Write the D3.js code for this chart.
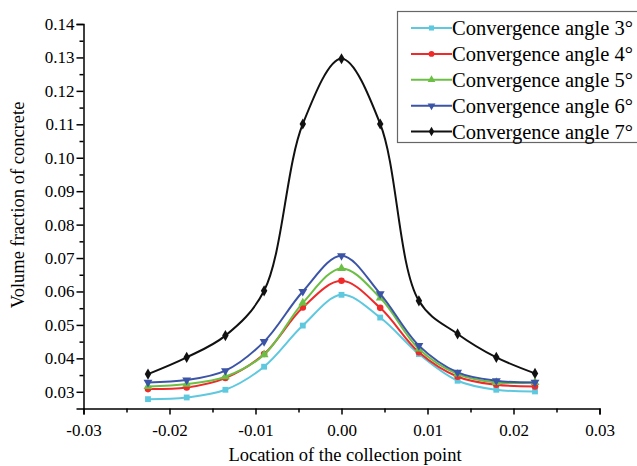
<!DOCTYPE html>
<html><head><meta charset="utf-8">
<script src="https://cdn.jsdelivr.net/npm/d3@7"></script>
<style>body{margin:0;background:#fff}svg{display:block}text{font-family:"Liberation Serif","Times New Roman",serif;fill:#000}</style>
</head><body><svg id="c" width="637" height="466"></svg>
<script>
const positions = [-0.0225,-0.018,-0.0135,-0.009,-0.0045,0,0.0045,0.009,0.0135,0.018,0.0225];
const seriesNames = ["Convergence angle 3°","Convergence angle 4°","Convergence angle 5°","Convergence angle 6°","Convergence angle 7°"];
const angle3 = [0.0278,0.0283,0.0306,0.0375,0.0498,0.0590,0.0522,0.0413,0.0333,0.0306,0.0301];
const angle4 = [0.0308,0.0313,0.0341,0.0413,0.0552,0.0632,0.0551,0.0418,0.0345,0.0321,0.0316];
const angle5 = [0.0316,0.0323,0.0345,0.0411,0.0566,0.0669,0.0581,0.0428,0.0353,0.0328,0.0328];
const angle6 = [0.0328,0.0335,0.0363,0.0450,0.0600,0.0707,0.0593,0.0438,0.0358,0.0333,0.0328];
const angle7 = [0.0353,0.0403,0.0468,0.0602,0.1101,0.1296,0.1101,0.0572,0.0473,0.0403,0.0355];
const xTicks = [-0.03,-0.02,-0.01,0.00,0.01,0.02,0.03];
const yTicks = [0.03,0.04,0.05,0.06,0.07,0.08,0.09,0.10,0.11,0.12,0.13,0.14];

const colors = ["#5ec8df","#ee2a2a","#6cbf45","#3b54a6","#111111"];
const symbols = [d3.symbolSquare, d3.symbolCircle, d3.symbolTriangle, "down", d3.symbolDiamond];
const allSeries = [angle3,angle4,angle5,angle6,angle7];

const svg = d3.select("#c");
const x = d3.scaleLinear().domain([-0.03,0.03]).range([83.5,599.5]);
const y = d3.scaleLinear().domain([0.025,0.14]).range([408.5,24]);
const fmt = v => d3.format(".2f")(v).replace("\u2212","-");

// axes
const xAxis = d3.axisBottom(x).tickValues(xTicks).tickSize(6).tickFormat(fmt);
const yAxis = d3.axisLeft(y).tickValues(yTicks).tickSize(7).tickFormat(fmt);
const xMinor = d3.range(-0.025,0.03,0.01).map(v=>+v.toFixed(4));
const yMinor = d3.range(0.035,0.14,0.01).map(v=>+v.toFixed(4));

const gx = svg.append("g").attr("transform","translate(0,408.5)").call(xAxis);
gx.select(".domain").attr("stroke","#000").attr("stroke-width",1.5);
gx.selectAll(".tick line").attr("stroke-width",1.5);
gx.selectAll("text").attr("font-size",17).attr("dy","1.1em");
svg.append("g").attr("transform","translate(0,408.5)").call(d3.axisBottom(x).tickValues(xMinor).tickSize(4).tickFormat(""))
  .call(g=>{g.select(".domain").remove();g.selectAll("line").attr("stroke-width",1.5);});

const gy = svg.append("g").attr("transform","translate(83.5,0)").call(yAxis);
gy.select(".domain").attr("stroke","#000").attr("stroke-width",1.5);
gy.selectAll(".tick line").attr("stroke-width",1.5);
gy.selectAll("text").attr("font-size",17).attr("x",-9);
svg.append("g").attr("transform","translate(83.5,0)").call(d3.axisLeft(y).tickValues(yMinor).tickSize(4).tickFormat(""))
  .call(g=>{g.select(".domain").remove();g.selectAll("line").attr("stroke-width",1.5);});

svg.append("text").attr("x",345).attr("y",461).attr("text-anchor","middle").attr("font-size",18.5).text("Location of the collection point");
svg.append("text").attr("transform","translate(24,205) rotate(-90)").attr("text-anchor","middle").attr("font-size",18.5).text("Volume fraction of concrete");

function marker(sel, i, size){
  if (symbols[i]==="down"){
    sel.attr("d", d3.symbol(d3.symbolTriangle, size)()).attr("transform", function(){ return d3.select(this).attr("transform") + " rotate(180)"; });
  } else {
    sel.attr("d", d3.symbol(symbols[i], size)());
  }
}

const line = d3.line().x((d,i)=>x(positions[i])).y(d=>y(d)).curve(d3.curveCatmullRom.alpha(0.5));
allSeries.forEach((vals,i)=>{
  svg.append("path").attr("d", line(vals)).attr("fill","none").attr("stroke",colors[i]).attr("stroke-width",2);
  svg.selectAll(null).data(vals).enter().append("path")
    .attr("transform",(d,j)=>`translate(${x(positions[j])},${y(d)})`)
    .each(function(){ marker(d3.select(this), i, i===4?36:34); })
    .attr("fill",colors[i]);
});

// legend
const lg = svg.append("g");
lg.append("rect").attr("x",397.5).attr("y",11.5).attr("width",260).attr("height",131).attr("fill","#fff").attr("stroke","#666").attr("stroke-width",1.2);
seriesNames.forEach((n,i)=>{
  const yy = 28 + i*25.9;
  lg.append("line").attr("x1",411).attr("x2",452).attr("y1",yy).attr("y2",yy).attr("stroke",colors[i]).attr("stroke-width",2);
  lg.append("path").attr("transform",`translate(431.5,${yy})`).each(function(){ marker(d3.select(this), i, 26); }).attr("fill",colors[i]);
  lg.append("text").attr("x",452).attr("y",yy+7).attr("font-size",20.5).text(n);
});
</script></body></html>
